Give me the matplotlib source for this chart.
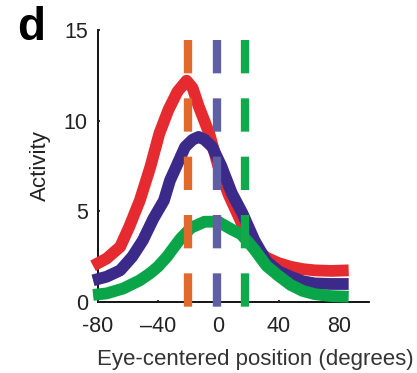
import matplotlib
matplotlib.use("Agg")
import matplotlib.pyplot as plt

plt.rcParams['font.family'] = ['Liberation Sans', 'DejaVu Sans']

# curves (eye-centered position, activity)
red_x = [-83, -74, -65, -59, -52, -45, -39, -33, -27, -21, -17, -13, -6, 0, 7, 12, 18, 24, 32, 40, 48, 56, 64, 75, 86.5]
red_y = [2.0, 2.4, 3.05, 4.15, 5.6, 7.45, 9.3, 10.6, 11.6, 12.2, 11.8, 10.8, 9.3, 7.5, 5.9, 5.0, 3.9, 3.0, 2.45, 2.15, 1.95, 1.82, 1.75, 1.72, 1.75]

purple_x = [-83, -74, -65, -57, -50, -43, -36, -32, -29, -22, -17, -13, -9, -4, 2, 9, 16, 24, 32, 40, 48, 56, 64, 75, 86.5]
purple_y = [1.2, 1.4, 1.75, 2.5, 3.4, 4.6, 5.6, 6.7, 7.25, 8.55, 8.95, 9.1, 8.95, 8.55, 7.5, 6.0, 4.9, 3.4, 2.25, 1.7, 1.4, 1.15, 1.03, 1.0, 1.0]

green_x = [-83, -74, -63, -52, -45, -40, -34, -30, -25, -18, -9, 0, 9, 15, 20, 24, 32, 40, 48, 56, 64, 75, 86.5]
green_y = [0.4, 0.48, 0.75, 1.2, 1.6, 1.95, 2.5, 2.95, 3.5, 4.1, 4.43, 4.43, 4.0, 3.75, 3.3, 2.9, 2.0, 1.45, 0.95, 0.62, 0.44, 0.33, 0.3]

# dashed reference positions
dash_x = [-20, -1, 18]
dash_colors = ['#e0692b', '#5f5fa4', '#12a84b']

curve_colors = ['#e52b2f', '#3c2a8a', '#0aa548']

xticks = [-80, -40, 0, 40, 80]
xticklabels = ['-80', '\u201340', '0', '40', '80']
yticks = [0, 5, 10, 15]

fig = plt.figure(figsize=(4.17, 3.73), dpi=100)
ax = fig.add_axes([0.234, 0.190, 0.651, 0.730])

for xs, ys, c in zip([red_x, purple_x, green_x], [red_y, purple_y, green_y], curve_colors):
    ax.plot(xs, ys, color=c, lw=8.5, solid_capstyle='butt', solid_joinstyle='round',
            clip_on=False, zorder=2)

for xv, c in zip(dash_x, dash_colors):
    ax.plot([xv, xv], [14.43, -0.28], color=c, lw=6, dashes=(4.0, 3.0),
            clip_on=False, zorder=3)

ax.set_xlim(-80, 100)
ax.set_ylim(0, 15)
ax.set_xticks(xticks)
ax.set_xticklabels(xticklabels)
ax.set_yticks(yticks)

for s in ['top', 'right']:
    ax.spines[s].set_visible(False)
for s in ['left', 'bottom']:
    ax.spines[s].set_linewidth(1.3)
    ax.spines[s].set_zorder(1)

ax.tick_params(direction='in', length=1.5, width=1.3, labelsize=15.5, colors='#222222')
ax.tick_params(axis='x', pad=10)
ax.tick_params(axis='y', pad=7)

ax.set_xlabel('Eye-centered position (degrees)', fontsize=16, color='#333333')
ax.xaxis.set_label_coords(0.58, -0.173)
ax.set_ylabel('Activity', fontsize=16, color='#222222', labelpad=9)

fig.text(0.04, 0.893, 'd', fontsize=33, fontweight='bold', ha='left', va='baseline')

fig.savefig('out.png', dpi=100)
